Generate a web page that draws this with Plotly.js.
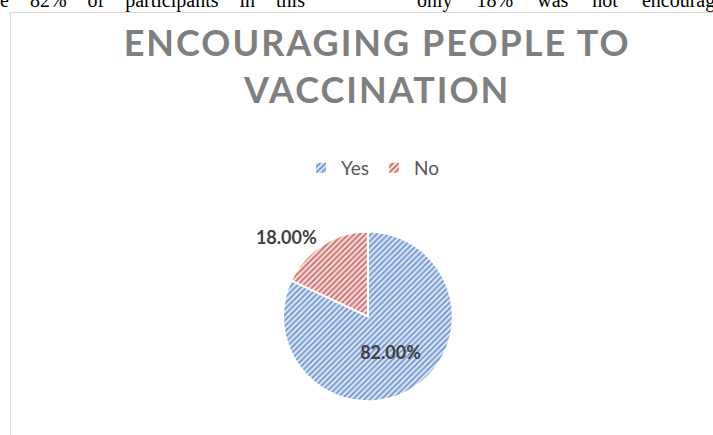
<!DOCTYPE html>
<html>
<head>
<meta charset="utf-8">
<script src="https://cdn.plot.ly/plotly-3.0.1.min.js"></script>
<style>
  html, body { margin: 0; padding: 0; background: #ffffff; width: 713px; height: 435px; overflow: hidden; position: relative; }
  #doc1, #doc2 { position: absolute; top: -10px; font-family: "Liberation Serif", "Times New Roman", serif; font-size: 20px; line-height: 20px; color: #000; white-space: nowrap; }
  #doc1 { left: 0px; word-spacing: 16px; }
  #doc2 { left: 417px; word-spacing: 19px; }
  #frame { position: absolute; left: 10px; top: 12px; width: 720px; height: 440px; border: 1px solid #d9d9d9; box-sizing: border-box; }
  #chart { position: absolute; left: 0; top: 0; width: 713px; height: 435px; }
  #chart .gtitle { letter-spacing: 2px; }
</style>
</head>
<body>
<div id="doc1">e 82% of participants in this</div>
<div id="doc2">only 18% was not encourag</div>
<div id="frame"></div>
<div id="chart"></div>
<script>
const categories = ["Yes", "No"];
const values = [82, 18];
const titleText = "ENCOURAGING PEOPLE TO<br>VACCINATION";

const trace = {
  type: "pie",
  labels: categories,
  values: values,
  sort: false,
  direction: "clockwise",
  rotation: 0,
  texttemplate: "%{percent:.2%}",
  textposition: ["inside", "outside"],
  insidetextorientation: "horizontal",
  automargin: false,
  textfont: { family: "Lato, 'Open Sans', sans-serif", size: 18, color: "#404040", weight: 700 },
  insidetextfont: { family: "Lato, 'Open Sans', sans-serif", size: 18, color: "#404040", weight: 700 },
  outsidetextfont: { family: "Lato, 'Open Sans', sans-serif", size: 18, color: "#404040", weight: 700 },
  marker: {
    colors: ["#c9d7ef", "#eec9c8"],
    line: { color: "#ffffff", width: 2 },
    pattern: {
      shape: "/",
      fgcolor: ["#6b93d0", "#cc6a67"],
      bgcolor: ["#dde6f5", "#f4dedd"],
      size: 4,
      solidity: 0.45
    }
  },
  hoverinfo: "none",
  domain: { x: [0.397, 0.635], y: [0.077, 0.468] }
};

const layout = {
  width: 713,
  height: 435,
  margin: { l: 0, r: 0, t: 0, b: 0, autoexpand: false },
  paper_bgcolor: "rgba(0,0,0,0)",
  plot_bgcolor: "rgba(0,0,0,0)",
  title: {
    text: titleText,
    font: { family: "Lato, 'Open Sans', sans-serif", size: 36, color: "#7f7f7f", weight: 700 },
    x: 0.529,
    xanchor: "center",
    xref: "paper",
    y: 1 - 56 / 435,
    yanchor: "top",
    yref: "paper"
  },
  showlegend: true,
  legend: {
    orientation: "h",
    x: 373 / 713,
    xanchor: "center",
    xref: "paper",
    y: 1 - 149 / 435,
    yanchor: "top",
    yref: "paper",
    font: { family: "Lato, 'Open Sans', sans-serif", size: 19, color: "#595959" },
    itemwidth: 30,
    itemclick: false,
    itemdoubleclick: false
  }
};

Plotly.newPlot("chart", [trace], layout, { displayModeBar: false, staticPlot: true });
</script>
</body>
</html>
